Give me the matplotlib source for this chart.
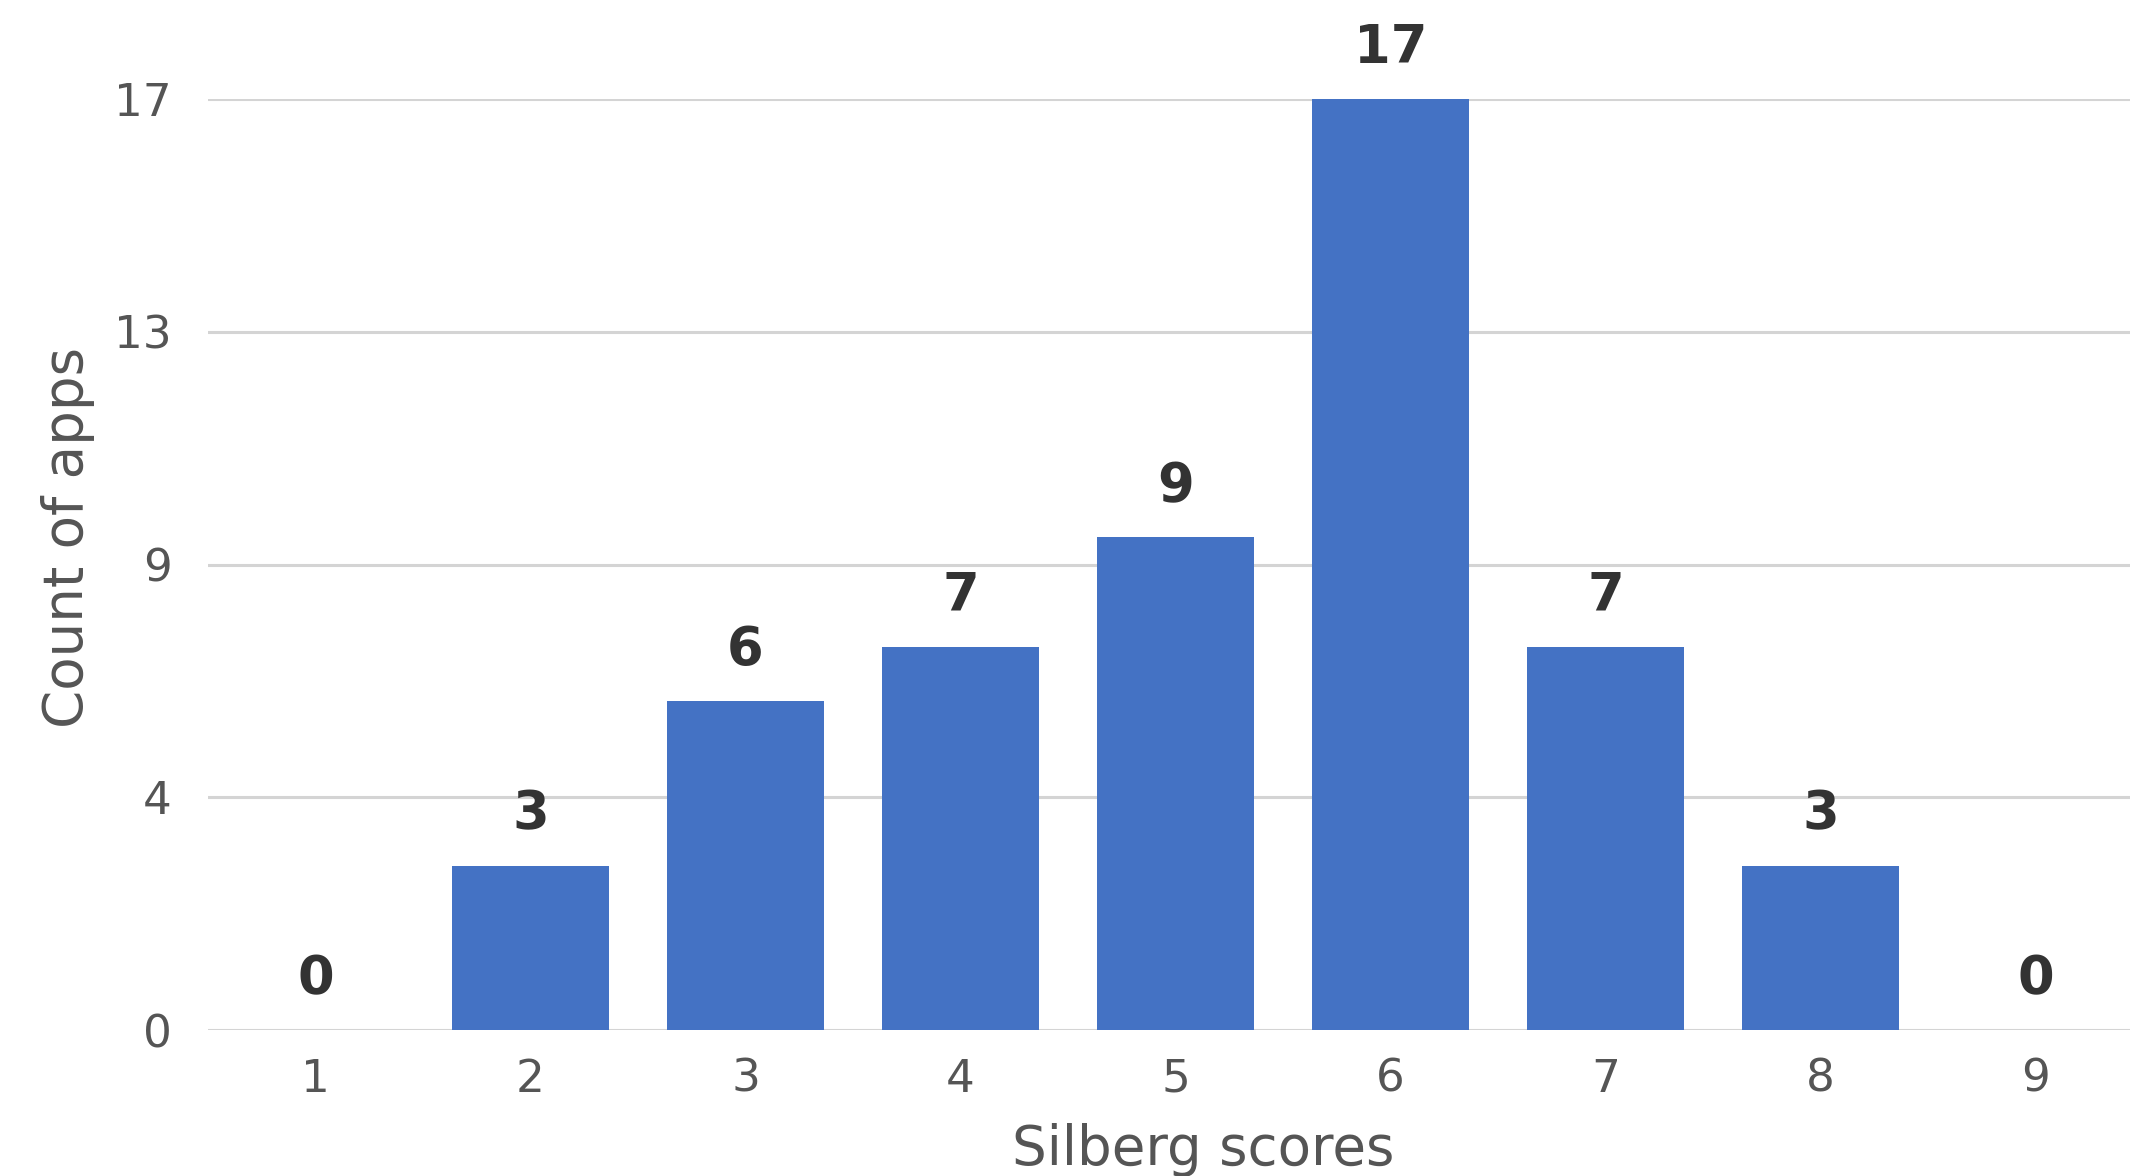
import matplotlib
matplotlib.use("Agg")
import matplotlib.pyplot as plt

scores = [1, 2, 3, 4, 5, 6, 7, 8, 9]
counts = [0, 3, 6, 7, 9, 17, 7, 3, 0]
ytick_vals = [0, 4.25, 8.5, 12.75, 17]
ytick_labels = ["0", "4", "9", "13", "17"]
xlabel = "Silberg scores"
ylabel = "Count of apps"

plt.rcParams['font.family'] = ['DejaVu Sans']
fig = plt.figure(figsize=(10.65, 5.88), dpi=200)
ax = fig.add_axes([208/2130, 1 - 1030/1176, 1922/2130, (1030 - 99)/1176])

bar_color = "#4472C4"
ax.bar(scores, counts, width=0.727, color=bar_color, zorder=3)

for x, v in zip(scores, counts):
    ax.annotate(str(v), (x, v), xytext=(0, 9), textcoords="offset points",
                ha="center", va="bottom", fontsize=19, fontweight="bold",
                color="#333333", annotation_clip=False)

ax.set_xlim(0.5, 9.44)
ax.set_ylim(0, 17)
ax.set_yticks(ytick_vals)
ax.set_yticklabels(ytick_labels)
ax.set_xticks(scores)
ax.set_xticklabels([str(s) for s in scores])
ax.tick_params(axis="both", length=0, labelsize=16.3, labelcolor="#555555")
ax.tick_params(axis="x", pad=10)
ax.tick_params(axis="y", pad=13)
ax.grid(axis="y", color="#D4D4D4", linewidth=1.1, zorder=0)
ax.set_axisbelow(True)
for s in ax.spines.values():
    s.set_visible(False)

ax.set_xlabel(xlabel, fontsize=19.7, color="#555555")
ax.xaxis.set_label_coords((1203 - 208) / 1922, -(1150 - 1030) / (1030 - 99))
ax.set_ylabel(ylabel, fontsize=19.7, color="#555555")
ax.yaxis.set_label_coords(-(208 - 68) / 1922, (1030 - 537) / (1030 - 99))
ax.xaxis.label.set_va("center")
ax.yaxis.label.set_va("center")

fig.savefig("out.png", dpi=200)
